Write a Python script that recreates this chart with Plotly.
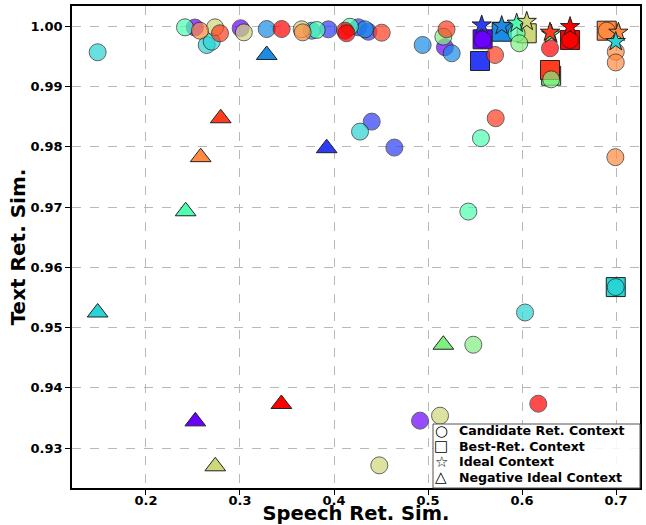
import plotly.graph_objects as go

# ---- palette: one colour per query group ----
group_colors = ["#6a00ff", "#2d3cf5", "#1a8ce6", "#2ad4d4", "#4dffb0",
                "#7ff07f", "#cfd77a", "#ff8a40", "#ff3c1e", "#ff0000"]

# ---- Candidate Ret. Context (circles) ----
candidate_speech = [0.252, 0.3007, 0.518, 0.4915, 0.5581,
                    0.394, 0.4259, 0.4365, 0.4401, 0.4642,
                    0.3284, 0.3763, 0.433, 0.4943, 0.5252,
                    0.1486, 0.2646, 0.2699, 0.4277, 0.6032, 0.6997,
                    0.2415, 0.3816, 0.417, 0.5563, 0.5429, 0.5943,
                    0.5163, 0.5971, 0.5482, 0.631,
                    0.2734, 0.3041, 0.3656, 0.5128, 0.4482,
                    0.2574, 0.3667, 0.6997, 0.6997, 0.6993, 0.6901,
                    0.2787, 0.4507, 0.5197, 0.5713, 0.572,
                    0.3443, 0.4117, 0.4133, 0.6298, 0.6173, 0.6511]
candidate_text = [0.9998, 0.99967, 0.99652, 0.93455, 0.9978,
                  0.9995, 0.99983, 0.9991, 0.98418, 0.97987,
                  0.99955, 0.99927, 0.9995, 0.9969, 0.99552,
                  0.99569, 0.9969, 0.99745, 0.98252, 0.9525, 0.95672,
                  0.99983, 0.99939, 0.99993, 0.98143, 0.96925, 0.99884,
                  0.99828, 0.99718, 0.94715, 0.9912,
                  0.99983, 0.999, 0.9995, 0.93537, 0.92713,
                  0.99927, 0.999, 0.99579, 0.9940, 0.97828, 0.99927,
                  0.99884, 0.99894, 0.9995, 0.99524, 0.98474,
                  0.99955, 0.99927, 0.99884, 0.99635, 0.93736, 0.99773]
candidate_group = [0, 0, 0, 0, 0,
                   1, 1, 1, 1, 1,
                   2, 2, 2, 2, 2,
                   3, 3, 3, 3, 3, 3,
                   4, 4, 4, 4, 4, 4,
                   5, 5, 5, 5,
                   6, 6, 6, 6, 6,
                   7, 7, 7, 7, 7, 7,
                   8, 8, 8, 8, 8,
                   9, 9, 9, 9, 9, 9]

# ---- Best-Ret. Context (squares) ----
best_speech = [0.5581, 0.5553, 0.5784, 0.6997, 0.631, 0.605, 0.6901, 0.6298, 0.6511]
best_text = [0.99784, 0.99424, 0.9991, 0.95672, 0.9918, 0.99884, 0.99927, 0.99275, 0.99773]
best_group = [0, 1, 2, 3, 5, 6, 7, 8, 9]

# ---- Ideal Context (stars) ----
ideal_speech = [0.5571, 0.5784, 0.5943, 0.605, 0.631, 0.6298, 0.6511, 0.7025, 0.6997]
ideal_text = [1.0002, 1.0001, 1.0005, 1.0008, 0.9987, 0.999, 0.99993, 0.999, 0.99745]
ideal_group = [1, 2, 4, 6, 5, 8, 9, 7, 3]

# ---- Negative Ideal Context (triangles) ----
negative_speech = [0.1486, 0.2422, 0.2582, 0.2795, 0.3922, 0.3284, 0.2525, 0.2737, 0.344, 0.5163]
negative_text = [0.9525, 0.9693, 0.97828, 0.98474, 0.97977, 0.99524, 0.93443, 0.92697, 0.93731, 0.94715]
negative_group = [3, 4, 7, 8, 1, 2, 0, 6, 9, 5]

legend_labels = ["Candidate Ret. Context", "Best-Ret. Context",
                 "Ideal Context", "Negative Ideal Context"]
legend_glyphs = ["\u25CB", "\u25A1", "\u2606", "\u25B3"]

x_ticks = [0.2, 0.3, 0.4, 0.5, 0.6, 0.7]
y_ticks = [0.93, 0.94, 0.95, 0.96, 0.97, 0.98, 0.99, 1.00]

FONT = "DejaVu Sans"
EDGE = dict(color="#222222", width=1)


def colors(groups):
    return [group_colors[g] for g in groups]


fig = go.Figure()
fig.add_trace(go.Scatter(x=best_speech, y=best_text, mode="markers", showlegend=False,
                         marker=dict(symbol="square", size=19, color=colors(best_group), line=EDGE)))
fig.add_trace(go.Scatter(x=candidate_speech, y=candidate_text, mode="markers", showlegend=False,
                         marker=dict(symbol="circle", size=17, color=colors(candidate_group),
                                     opacity=0.7, line=EDGE)))
fig.add_trace(go.Scatter(x=ideal_speech, y=ideal_text, mode="markers", showlegend=False,
                         marker=dict(symbol="star", size=14.5, color=colors(ideal_group), line=EDGE)))
fig.add_trace(go.Scatter(x=negative_speech, y=negative_text, mode="markers", showlegend=False,
                         marker=dict(symbol="triangle-up", size=18, color=colors(negative_group), line=EDGE)))

axis_common = dict(
    showgrid=True, gridcolor="#b8b8b8", griddash="dash", gridwidth=1,
    showline=True, linecolor="black", linewidth=1.5, mirror=True,
    ticks="outside", ticklen=5, tickcolor="black", zeroline=False,
    automargin=False,
    tickfont=dict(family=FONT, size=13, color="black", weight="bold"),
)

# ---- legend drawn as a boxed text block in the lower-right corner ----
plot_l, plot_r, plot_t, plot_b = 72, 640, 6, 488
pw, ph = plot_r - plot_l, plot_b - plot_t
box_left_px, box_top_px = 433, 424
row_px = [430.5, 446, 461.5, 477]
glyph_x_px, text_x_px = 441, 457

shapes = [dict(type="rect", xref="paper", yref="paper",
               x0=(box_left_px - plot_l) / pw, x1=1.0,
               y0=0.0, y1=(plot_b - box_top_px) / ph,
               line=dict(color="#555555", width=1),
               fillcolor="rgba(255,255,255,0.85)", layer="above")]
annotations = []
for lab, gl, ry in zip(legend_labels, legend_glyphs, row_px):
    yp = (plot_b - ry) / ph
    annotations.append(dict(xref="paper", yref="paper", x=(glyph_x_px - plot_l) / pw, y=yp,
                            text=gl, showarrow=False, xanchor="center", yanchor="middle",
                            font=dict(family=FONT, size=15, color="black")))
    annotations.append(dict(xref="paper", yref="paper", x=(text_x_px - plot_l) / pw, y=yp,
                            text=lab, showarrow=False, xanchor="left", yanchor="middle",
                            font=dict(family=FONT, size=12.6, color="black", weight="bold")))

fig.update_layout(
    width=646, height=525,
    margin=dict(l=plot_l, r=646 - plot_r, t=plot_t, b=525 - plot_b),
    paper_bgcolor="white", plot_bgcolor="white",
    font=dict(family=FONT, color="black"),
    showlegend=False,
    xaxis=dict(range=[0.1213, 0.7255], tickvals=x_ticks, tickformat=".1f",
               ticklabelstandoff=-5,
               title=dict(text="Speech Ret. Sim.", standoff=0,
                          font=dict(family=FONT, size=19.5, color="black", weight="bold")),
               **axis_common),
    yaxis=dict(range=[0.92337, 1.00337], tickvals=y_ticks, tickformat=".2f",
               title=dict(text="Text Ret. Sim.", standoff=0,
                          font=dict(family=FONT, size=20, color="black", weight="bold")),
               **axis_common),
    shapes=shapes,
    annotations=annotations,
)

fig.write_html("out.html",
               config={"displayModeBar": False},
               post_script="document.body.style.margin='0';document.body.style.overflow='hidden';")
